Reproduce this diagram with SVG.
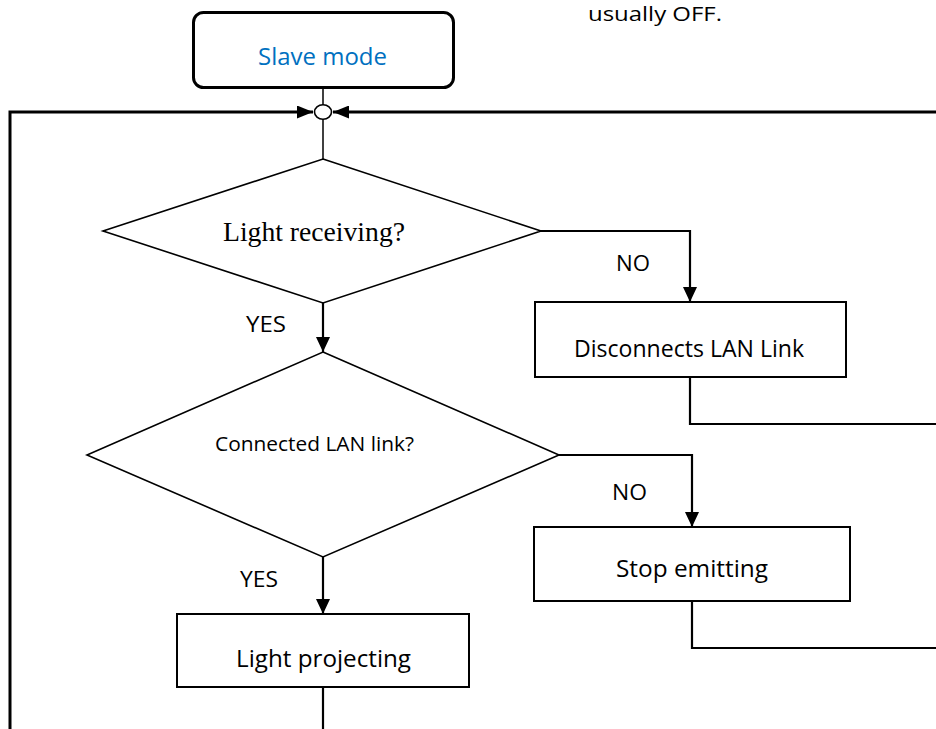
<svg xmlns="http://www.w3.org/2000/svg" width="936" height="729" viewBox="0 0 936 729">
<defs>
<style>
.t{font-family:"Open Sans","Noto Sans","Liberation Sans",sans-serif;fill:#000}
.box{fill:#fff;stroke:#000;stroke-width:2}
.dia{fill:#fff;stroke:#000;stroke-width:1.6}
.ln{fill:none;stroke:#000;stroke-width:2.2}
.thin{fill:none;stroke:#000;stroke-width:1.5}
.loop{fill:none;stroke:#000;stroke-width:3}
</style>
<marker id="ah" markerUnits="userSpaceOnUse" markerWidth="16" markerHeight="16" refX="15" refY="7" orient="auto" viewBox="0 0 16 14">
<path d="M0,0 L15,7 L0,14 z" fill="#000"/>
</marker>
<marker id="ahh" markerUnits="userSpaceOnUse" markerWidth="17" markerHeight="13" refX="16" refY="6.5" orient="auto" viewBox="0 0 17 13">
<path d="M0,0 L16,6.5 L0,13 z" fill="#000"/>
</marker>
</defs>
<rect width="936" height="729" fill="#fff"/>
<text class="t" x="588" y="21" font-size="20" textLength="134" lengthAdjust="spacingAndGlyphs">usually OFF.</text>
<g id="connectors">
<path class="loop" d="M10,729 L10,112 L313,112" marker-end="url(#ahh)"/>
<path class="loop" d="M936,112 L333,112" marker-end="url(#ahh)"/>
<path class="thin" d="M323,88 L323,105"/>
<path class="thin" d="M323,119 L323,159"/>
<path class="ln" d="M541,231 L690,231 L690,302" marker-end="url(#ah)"/>
<path class="ln" d="M690,377 L690,424 L936,424"/>
<path class="ln" d="M323,303 L323,352" marker-end="url(#ah)"/>
<path class="ln" d="M559,455 L692,455 L692,527" marker-end="url(#ah)"/>
<path class="ln" d="M692,601 L692,648 L936,648"/>
<path class="ln" d="M323,557 L323,614" marker-end="url(#ah)"/>
<path class="ln" d="M323,687 L323,729"/>
<text class="t" x="616" y="271" font-size="22" textLength="34" lengthAdjust="spacingAndGlyphs">NO</text>
<text class="t" x="246" y="332" font-size="22" textLength="40" lengthAdjust="spacingAndGlyphs">YES</text>
<text class="t" x="612" y="500" font-size="22" textLength="35" lengthAdjust="spacingAndGlyphs">NO</text>
<text class="t" x="240" y="587" font-size="22" textLength="38" lengthAdjust="spacingAndGlyphs">YES</text>
</g>
<g id="merge">
<ellipse cx="323" cy="112" rx="8.5" ry="7.2" fill="#fff" stroke="#000" stroke-width="1.6"/>
</g>
<g id="slave-mode">
<rect x="193.5" y="12.5" width="260" height="75" rx="10" ry="10" fill="#fff" stroke="#000" stroke-width="3"/>
<text class="t" x="258" y="65" font-size="24" style="fill:#0070C0" textLength="129" lengthAdjust="spacingAndGlyphs">Slave mode</text>
</g>
<g id="light-receiving">
<polygon class="dia" points="323,159 541,231 323,303 103,231"/>
<text x="223" y="241" font-family="'Liberation Serif','Times New Roman',serif" font-size="27" textLength="182" lengthAdjust="spacingAndGlyphs">Light receiving?</text>
</g>
<g id="disconnects">
<rect class="box" x="535" y="302" width="311" height="75"/>
<text class="t" x="574" y="357" font-size="23" textLength="230" lengthAdjust="spacingAndGlyphs">Disconnects LAN Link</text>
</g>
<g id="connected-lan">
<polygon class="dia" points="323,352 559,455 323,557 87,455"/>
<text class="t" x="215" y="451" font-size="20" textLength="199" lengthAdjust="spacingAndGlyphs">Connected LAN link?</text>
</g>
<g id="stop-emitting">
<rect class="box" x="534" y="527" width="316" height="74"/>
<text class="t" x="616" y="577" font-size="23" textLength="152" lengthAdjust="spacingAndGlyphs">Stop emitting</text>
</g>
<g id="light-projecting">
<rect class="box" x="177" y="614" width="292" height="73"/>
<text class="t" x="236" y="667" font-size="23" textLength="175" lengthAdjust="spacingAndGlyphs">Light projecting</text>
</g>
</svg>
